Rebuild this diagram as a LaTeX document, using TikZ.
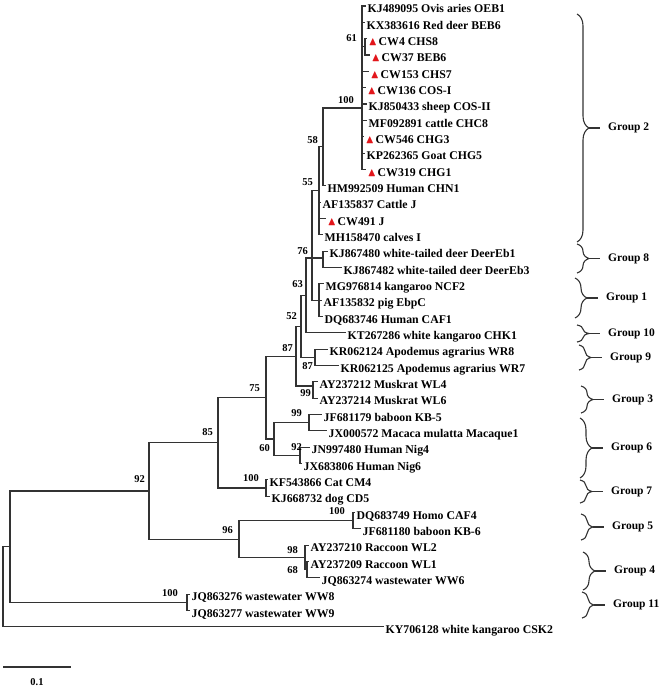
\documentclass[tikz,border=0pt]{standalone}
\usepackage{amssymb}
\usepackage{fontspec}
\setmainfont{Liberation Serif}
\usepackage{xcolor}
\usetikzlibrary{decorations.pathreplacing}
\definecolor{branch}{HTML}{333333}
\definecolor{hitred}{HTML}{E2161B}

\newcommand{\cw}{{\color{hitred}$\blacktriangle$}\kern1.5pt}

\begin{document}
\begin{tikzpicture}[
        x=1pt, y=-1pt,
        br/.style={draw=branch, line width=1.1pt},
        lab/.style={anchor=west, inner sep=1.5pt, yshift=-4pt, text height=8pt,
                text depth=2.5pt, font=\fontsize{11.8}{13}\selectfont\bfseries},
        bs/.style={anchor=east, inner sep=0pt, font=\fontsize{10.5}{12}\selectfont\bfseries},
        gbrace/.style={draw=branch, line width=1.1pt, decorate,
                decoration={brace, amplitude=12pt}},
        grp/.style={anchor=west, inner sep=0pt, font=\fontsize{11.5}{13}\selectfont\bfseries}
    ]

    \useasboundingbox (0,0) rectangle (664,687);

    % leaf: name, x of tip, row, text
    \def\leaf#1#2#3#4{%
        \coordinate (#1) at (#2,{6+16.34*(#3-1)});
        \node[lab] (#1l) at (#1) {#4};
    }
    % group brace: x, top, bottom, name, text
    \def\grp#1#2#3#4#5{%
        \draw[gbrace] (#1,#2) -- (#1,#3);
        \draw[br] ({#1+12},{(#2+#3)/2}) -- ({#1+23},{(#2+#3)/2});
        \node[grp] (#4) at ({#1+31},{(#2+#3)/2}) {#5};
    }

    % =============== tips ===============
    \leaf{t1}{366}{1}{KJ489095 Ovis aries OEB1}
    \leaf{t2}{365}{2}{KX383616 Red deer BEB6}
    \leaf{t3}{367}{3}{\cw CW4 CHS8}
    \leaf{t4}{370}{4}{\cw CW37 BEB6}
    \leaf{t5}{369}{5}{\cw CW153 CHS7}
    \leaf{t6}{366}{6}{\cw CW136 COS-I}
    \leaf{t7}{367}{7}{KJ850433 sheep COS-II}
    \leaf{t8}{367}{8}{MF092891 cattle CHC8}
    \leaf{t9}{364}{9}{\cw CW546 CHG3}
    \leaf{t10}{365}{10}{KP262365 Goat CHG5}
    \leaf{t11}{366}{11}{\cw CW319 CHG1}
    \leaf{t12}{326}{12}{HM992509 Human CHN1}
    \leaf{t13}{321}{13}{AF135837 Cattle J}
    \leaf{t14}{326}{14}{\cw CW491 J}
    \leaf{t15}{323}{15}{MH158470 calves I}
    \leaf{t16}{328}{16}{KJ867480 white-tailed deer DeerEb1}
    \leaf{t17}{342}{17}{KJ867482 white-tailed deer DeerEb3}
    \leaf{t18}{324}{18}{MG976814 kangaroo NCF2}
    \leaf{t19}{322}{19}{AF135832 pig EbpC}
    \leaf{t20}{323}{20}{DQ683746 Human CAF1}
    \leaf{t21}{346}{21}{KT267286 white kangaroo CHK1}
    \leaf{t22}{328}{22}{KR062124 Apodemus agrarius WR8}
    \leaf{t23}{339}{23}{KR062125 Apodemus agrarius WR7}
    \leaf{t24}{318}{24}{AY237212 Muskrat WL4}
    \leaf{t25}{318}{25}{AY237214 Muskrat WL6}
    \leaf{t26}{322}{26}{JF681179 baboon KB-5}
    \leaf{t27}{327}{27}{JX000572 Macaca mulatta Macaque1}
    \leaf{t28}{310}{28}{JN997480 Human Nig4}
    \leaf{t29}{302}{29}{JX683806 Human Nig6}
    \leaf{t30}{268}{30}{KF543866 Cat CM4}
    \leaf{t31}{270}{31}{KJ668732 dog CD5}
    \leaf{t32}{355}{32}{DQ683749 Homo CAF4}
    \leaf{t33}{361}{33}{JF681180 baboon KB-6}
    \leaf{t34}{309}{34}{AY237210 Raccoon WL2}
    \leaf{t35}{309}{35}{AY237209 Raccoon WL1}
    \leaf{t36}{320}{36}{JQ863274 wastewater WW6}
    \leaf{t37}{190}{37}{JQ863276 wastewater WW8}
    \leaf{t38}{190}{38}{JQ863277 wastewater WW9}
    \leaf{t39}{384}{39}{KY706128 white kangaroo CSK2}

    % =============== inner nodes ===============
    \coordinate (root) at (3,586.8);
    \coordinate (nA)   at (10,546.7);
    \coordinate (n92)  at (149,491);
    \coordinate (n85)  at (218,442.8);
    \coordinate (n75)  at (266,397.6);
    \coordinate (n87)  at (296,356.2);
    \coordinate (n52)  at (301,326.4);
    \coordinate (n63)  at (306,295.4);
    \coordinate (n76)  at (312,258);
    \coordinate (n55)  at (319,190.8);
    \coordinate (n58)  at (323,146.9);
    \coordinate (g2)   at (362,108);
    \coordinate (n61)  at (365,46.85);
    \coordinate (deer) at (323,258);
    \coordinate (ncf)  at (319,300.1);
    \coordinate (apo)  at (315,357.3);
    \coordinate (musk) at (313,386);
    \coordinate (n60)  at (274,439);
    \coordinate (bab)  at (309,422.7);
    \coordinate (nig)  at (300,455.4);
    \coordinate (cat)  at (266,488);
    \coordinate (n96)  at (239,539.1);
    \coordinate (homo) at (353,520.7);
    \coordinate (n98)  at (305,557.5);
    \coordinate (n68)  at (307,569.7);
    \coordinate (ww)   at (187,602.4);

    % =============== branches ===============
    \foreach \p/\kids in {root/{nA,t39}, nA/{n92,ww}, n92/{n85,n96},
            n85/{n75,cat}, n75/{n87,n60}, n87/{n52,musk}, n52/{n63,apo},
            n63/{n76,t21}, n76/{n55,deer,ncf}, n55/{n58,t13,t14,t15},
            n58/{g2,t12}, g2/{t1,t2,n61,t5,t6,t7,t8,t9,t10,t11}, n61/{t3,t4},
            deer/{t16,t17}, ncf/{t18,t19,t20}, apo/{t22,t23}, musk/{t24,t25},
            n60/{bab,nig}, bab/{t26,t27}, nig/{t28,t29}, cat/{t30,t31},
            n96/{homo,n98}, homo/{t32,t33}, n98/{t34,n68}, n68/{t35,t36},
            ww/{t37,t38}}
        \foreach \c in \kids
            \draw[br] (\p) |- (\c);

    % =============== bootstrap values ===============
    \node[bs] (b61)   at (357,38)  {61};
    \node[bs] (bg2)   at (354,100) {100};
    \node[bs] (b58)   at (318,140) {58};
    \node[bs] (b55)   at (313,182) {55};
    \node[bs] (b76)   at (308,251) {76};
    \node[bs] (b63)   at (303,284) {63};
    \node[bs] (b52)   at (297,316) {52};
    \node[bs] (b87)   at (293,348) {87};
    \node[bs] (bapo)  at (313,366) {87};
    \node[bs] (bmusk) at (311,393) {99};
    \node[bs] (b75)   at (260,388) {75};
    \node[bs] (bbab)  at (302,413) {99};
    \node[bs] (bnig)  at (302,447) {92};
    \node[bs] (b60)   at (270,448) {60};
    \node[bs] (bcat)  at (259,478) {100};
    \node[bs] (b85)   at (213,432) {85};
    \node[bs] (b92)   at (145,479) {92};
    \node[bs] (b96)   at (233,530) {96};
    \node[bs] (bhomo) at (345,511) {100};
    \node[bs] (b98)   at (298,550) {98};
    \node[bs] (b68)   at (298,570) {68};
    \node[bs] (bww)   at (178,593) {100};

    % =============== groups ===============
    \grp{577}{14}{242}{grp2}{Group 2}
    \grp{577}{244}{273}{grp8}{Group 8}
    \grp{575}{278}{318}{grp1}{Group 1}
    \grp{577}{325}{342}{grp10}{Group 10}
    \grp{579}{345}{370}{grp9}{Group 9}
    \grp{581}{386}{413}{grp3}{Group 3}
    \grp{580}{418}{478}{grp6}{Group 6}
    \grp{580}{480}{503}{grp7}{Group 7}
    \grp{581}{514}{540}{grp5}{Group 5}
    \grp{583}{552}{590}{grp4}{Group 4}
    \grp{582}{592}{618}{grp11}{Group 11}

    % =============== scale bar ===============
    \draw[br] (3,667) -- (71,667);
    \node[font=\fontsize{10.5}{12}\selectfont\bfseries] (scl) at (37,682) {0.1};

\end{tikzpicture}
\end{document}
